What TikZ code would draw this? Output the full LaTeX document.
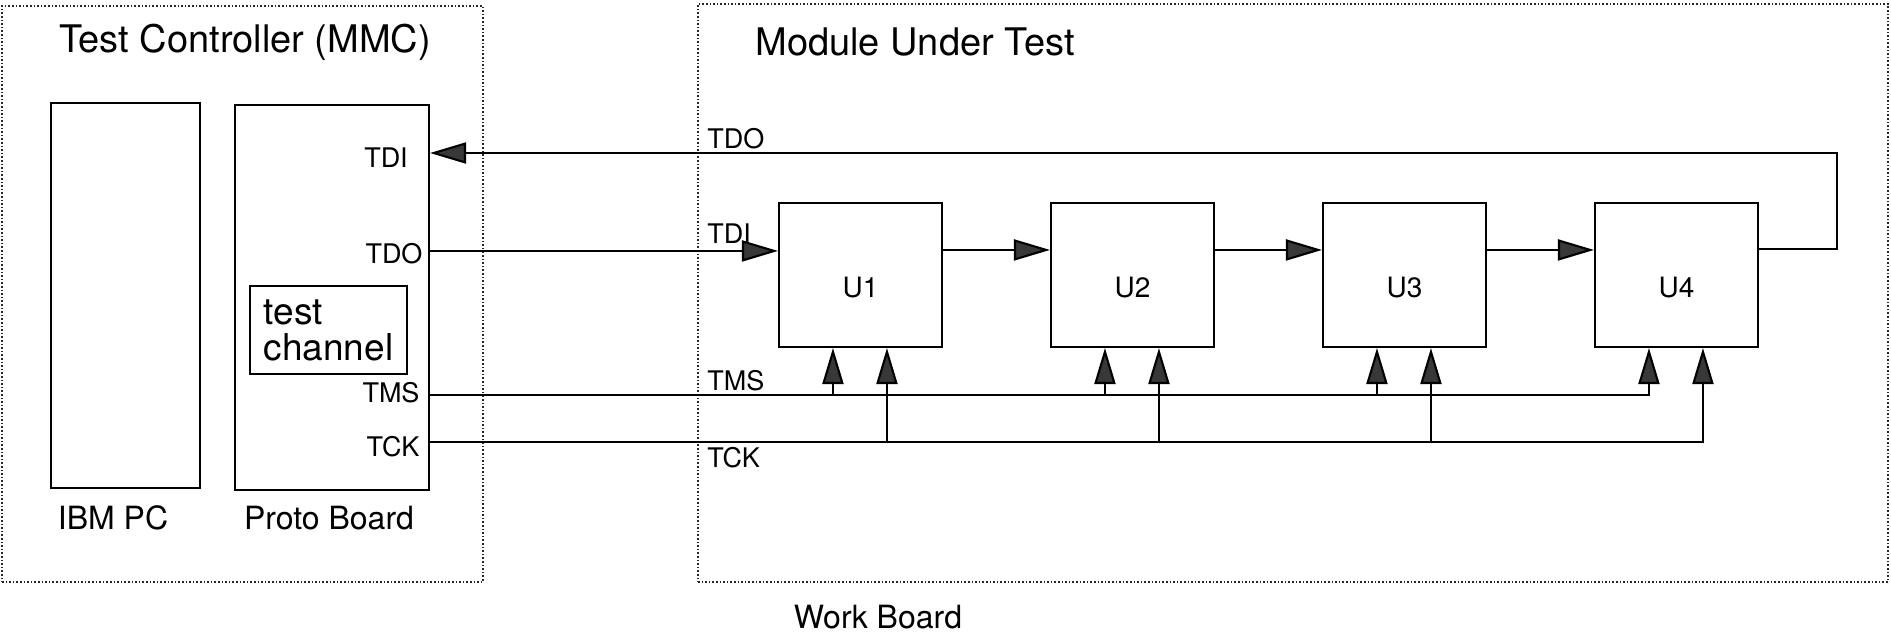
\documentclass[tikz,border=0pt]{standalone}
\usepackage{fontspec}
\setmainfont{TeX Gyre Heros}
\usetikzlibrary{arrows.meta,calc}
\begin{document}
\begin{tikzpicture}[x=0.5pt,y=-0.5pt,
  frame/.style={draw=black!85, line width=0.8pt, densely dotted, inner sep=0},
  box/.style={draw, line width=1.05pt, inner sep=0},
  chip/.style={box, minimum width=81.5pt, minimum height=72pt, text height=22.5pt, text depth=0pt, font=\fontsize{14}{15}\selectfont},
  wire/.style={line width=1.05pt},
  arr/.style={wire, -{Triangle[length=18pt,width=10.5pt,fill=black!78]}},
  lbl/.style={inner sep=0, font=\fontsize{13.5}{15}\selectfont},
  big/.style={inner sep=0, font=\fontsize{19}{22}\selectfont},
  mid/.style={inner sep=0, font=\fontsize{16}{19}\selectfont}]
\useasboundingbox (0,0) rectangle (1891,632);
% frames
\node[frame, minimum width=240.5pt, minimum height=288pt] (ctrl) at (242.5,294) {};
\node[frame, minimum width=595pt, minimum height=289pt] (mut) at (1293,293) {};
\node[big] (ctrlT) at (245,42) {Test Controller (MMC)};
\node[big] (mutT) at (915,42) {Module Under Test};
\node[mid] (wb) at (878,617) {Work Board};
% controller boxes
\node[box, minimum width=74.5pt, minimum height=192.5pt] (pc) at (125.5,295.5) {};
\node[box, minimum width=97pt, minimum height=192.5pt] (proto) at (332,297.5) {};
\node[mid] (pcL) at (113,518) {IBM PC};
\node[mid] (protoL) at (329,518) {Proto Board};
\node[box, minimum width=78.5pt, minimum height=44pt, align=left,
      font=\fontsize{18.5}{18}\selectfont] (tc) at (328.5,330) {test\\channel};
% port labels on proto board
\node[lbl] (pTDI) at (386,158) {TDI};
\node[lbl] (pTDO) at (394,254) {TDO};
\node[lbl] (pTMS) at (391,393) {TMS};
\node[lbl] (pTCK) at (393,447) {TCK};
% labels in module
\node[lbl, anchor=west] (mTDO) at (707,139) {TDO};
\node[lbl, anchor=west] (mTDI) at (707,234) {TDI};
\node[lbl, anchor=west] (mTMS) at (707,381) {TMS};
\node[lbl, anchor=west] (mTCK) at (707,458) {TCK};
% chips
\foreach \i in {1,...,4}{
  \node[chip] (U\i) at ({860.5+272*(\i-1)},275) {U\i};
  \coordinate (ms\i) at ($(U\i.south west)+(55,0)$);
  \coordinate (ck\i) at ($(U\i.south west)+(109,0)$);
}
\coordinate (in1) at ($(U1.north west)+(0,49)$);
\coordinate (out4) at ($(U4.north east)+(0,47)$);
\coordinate (ret) at (1837,153);
\coordinate (tms) at (0,395);
\coordinate (tck) at (0,442);
% TDO -> U1
\draw[arr] (proto.east |- in1) -- (in1);
% chain
\foreach \a/\b in {1/2,2/3,3/4}
  \draw[arr] ($(U\a.north east)+(0,48)$) -- ($(U\b.north west)+(0,48)$);
% return to TDI
\draw[arr] (out4) -- (out4 -| ret) -- (ret) -- (proto.east |- ret);
% TMS
\draw[arr] (proto.east |- tms) -| (ms4);
\foreach \i in {1,2,3} \draw[arr] (ms\i |- tms) -- (ms\i);
% TCK
\draw[arr] (proto.east |- tck) -| (ck4);
\foreach \i in {1,2,3} \draw[arr] (ck\i |- tck) -- (ck\i);
\end{tikzpicture}
\end{document}
